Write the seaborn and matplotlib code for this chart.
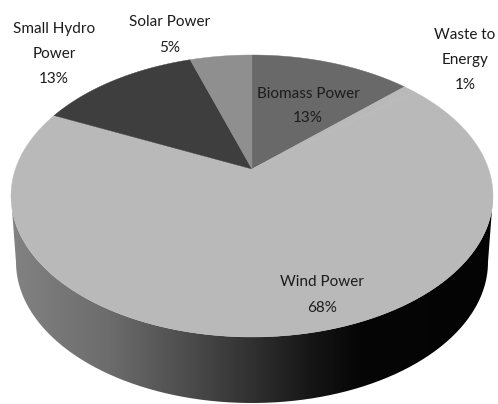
import numpy as np
import matplotlib
matplotlib.use("Agg")
import matplotlib.pyplot as plt
from matplotlib.patches import PathPatch
from matplotlib.path import Path
from matplotlib.colors import LinearSegmentedColormap
import seaborn as sns

sources = ["Biomass Power", "Waste to Energy", "Wind Power", "Small Hydro Power", "Solar Power"]
shares = [13, 1, 68, 13, 5]
slice_colors = ["#696969", "#b9b9b9", "#b9b9b9", "#3e3e3e", "#8f8f8f"]
wall_positions = [0.0, 0.2, 0.35, 0.5, 0.62, 0.72, 1.0]
wall_shades = ["#828282", "#6c6c6c", "#4f4f4f", "#303030", "#161616", "#060606", "#040404"]

label_lines = [["Biomass Power", "13%"], ["Waste to", "Energy", "1%"], ["Wind Power", "68%"],
               ["Small Hydro", "Power", "13%"], ["Solar Power", "5%"]]
label_spots = [(308, 106), (465, 60), (322, 295), (54, 54), (170, 35)]

sns.set_theme(style="white")
plt.rcParams["font.family"] = ["Lato", "DejaVu Sans"]

# Tilted-disc geometry in pixels: a circle seen in perspective
CX, CY = 252.0, 196.0
RX, RY = 241.0, 141.0
APEX_LIFT = 27.0
DEPTH = 66.0
BASE_RX = 236.0


def project(theta):
    """Map clockwise-from-top angles on the disc onto the tilted top face."""
    c = APEX_LIFT / RY
    d = RX * np.sqrt(1 - c ** 2)
    u, v = np.sin(theta), np.cos(theta)
    den = 1 + c * v
    return CX + d * u / den, CY - (RY * v + APEX_LIFT) / den


fig = plt.figure(figsize=(4.98, 4.04), dpi=100)
ax = fig.add_axes([0, 0, 1, 1])
ax.axis("off")

# Side wall: horizontal grey ramp clipped to the band under the front rim
t = np.linspace(0, np.pi, 240)
top_x = CX + RX * np.cos(t)
top_y = CY + RY * np.sin(t)
low_x = CX + BASE_RX * np.cos(t)
low_y = CY + DEPTH + RY * np.sin(t)
band = np.column_stack([np.r_[low_x, top_x[::-1]], np.r_[low_y, top_y[::-1]]])
ramp = LinearSegmentedColormap.from_list("wall", list(zip(wall_positions, wall_shades)))
image = ax.imshow(np.linspace(0, 1, 480)[None, :], cmap=ramp, vmin=0, vmax=1,
                  extent=(12, 494, 404, 190), aspect="auto", zorder=1)
clip = PathPatch(Path(band), transform=ax.transData, facecolor="none", edgecolor="none")
ax.add_patch(clip)
image.set_clip_path(clip)
ax.set_xlim(0, 498)
ax.set_ylim(404, 0)

# Top face slices, clockwise from twelve o'clock
bounds = np.r_[0, np.cumsum(shares)] / np.sum(shares) * 2 * np.pi
for start, stop, color in zip(bounds[:-1], bounds[1:], slice_colors):
    x, y = project(np.linspace(start, stop, 160))
    ax.fill(np.r_[CX, x], np.r_[CY - APEX_LIFT, y], color=color, lw=0.3, zorder=2)

for lines, (x, y) in zip(label_lines, label_spots):
    ax.text(x, y, "\n".join(lines), ha="center", va="center", fontsize=11,
            color="#1c1c1c", linespacing=2.0, zorder=3)

fig.savefig("out.png", dpi=100, facecolor="white")
